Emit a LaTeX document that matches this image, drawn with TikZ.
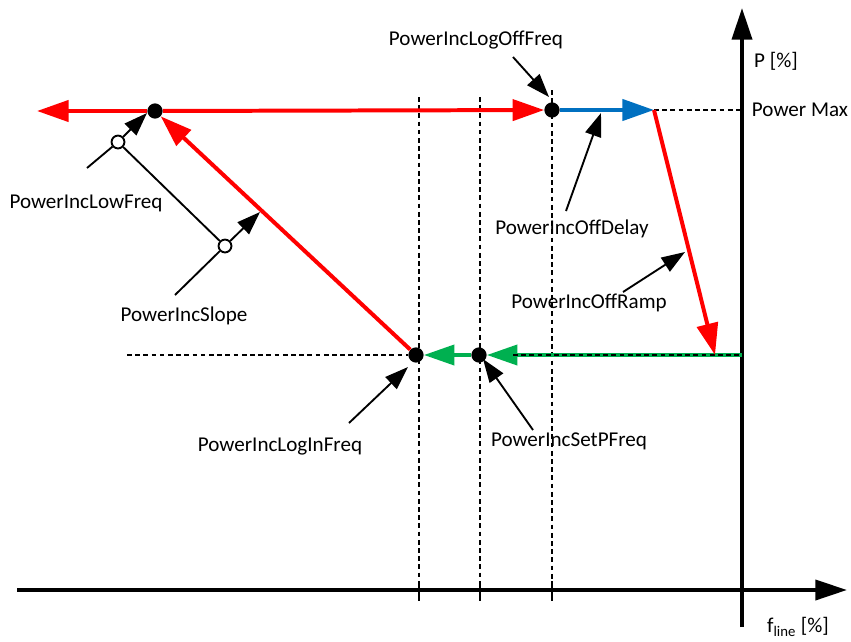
\documentclass[tikz,border=0pt]{standalone}
\usepackage{fontspec}
\setmainfont{Carlito}
\usepackage{tikz}
\usetikzlibrary{arrows.meta}

\definecolor{incred}{RGB}{255,0,0}
\definecolor{incblue}{RGB}{0,112,192}
\definecolor{incgreen}{RGB}{0,176,80}

\begin{document}
\begin{tikzpicture}[%
	x=0.03cm, y=-0.03cm,
	every node/.style={font=\fontsize{18}{20}\selectfont, inner sep=1pt},
	dot/.style={circle, fill=black, inner sep=0pt, minimum size=13pt},
	ring/.style={circle, draw=black, line width=1.6pt, fill=white, inner sep=0pt, minimum size=11pt},
	axis/.style={line width=3.4pt, -{Triangle[length=27pt,width=17pt]}},
	tick/.style={line width=1.7pt},
	guide/.style={line width=0.9pt, dash pattern=on 4pt off 3pt},
	redline/.style={incred, line width=3.4pt, -{Triangle[length=27pt,width=18pt]}},
	blueline/.style={incblue, line width=3.4pt, -{Triangle[length=27pt,width=18pt]}},
	greenline/.style={incgreen, line width=3.4pt, -{Triangle[length=26pt,width=17pt]}},
	pointer/.style={line width=1.6pt, -{Triangle[length=20pt,width=14pt]}}]
	\useasboundingbox (0,0) rectangle (851,641);
	% axes
	\coordinate (xstart) at (17,590);
	\coordinate (xend) at (847,590);
	\coordinate (ystart) at (742,627);
	\coordinate (yend) at (742,8);
	\node (plabel) at (776,61) {P [\%]};
	\node (pmaxlabel) at (800,110) {Power Max};
	\node (flabel) at (798,627) {f\textsubscript{line} [\%]};
	% guide lines
	\foreach \x/\top in {419/97, 480/97, 552/90}
		\draw[guide] (\x,\top) -- (\x,590);
	\draw[guide] (654,110) -- (742,110);
	\draw[axis] (xstart) -- (xend);
	\draw[axis] (ystart) -- (yend);
	\foreach \x in {419, 480, 552}
		\draw[tick] (\x,581) -- (\x,601);
	% points
	\node[dot] (lowf) at (155,111) {};
	\node[dot] (logoff) at (552,110) {};
	\node[dot] (setp) at (479,355) {};
	\node[dot] (login) at (416,355) {};
	\coordinate (leftend) at (37,111);
	\coordinate (pmax) at (654,110);
	\coordinate (rampend) at (715,355);
	\coordinate (pzero) at (742,355);
	\coordinate (greenhead) at (513,355);
	% curve
	\draw[guide] (127,355) -- (login);
	\draw[incgreen, line width=3.4pt] (pzero) -- (rampend);
	\draw[greenline] (rampend) -- (setp);
	\draw[greenline] (setp) -- (login);
	\draw[guide] (greenhead) -- (pzero);
	\draw[redline] (login) -- (lowf);
	\draw[redline] (lowf) -- (leftend);
	\draw[redline] (lowf) -- (logoff);
	\draw[blueline] (logoff) -- (pmax);
	\draw[redline] (pmax) -- (rampend);
	% labels
	\node (lbllogoff) at (476,40) {PowerIncLogOffFreq};
	\node (lbldelay) at (572,229) {PowerIncOffDelay};
	\node (lblramp) at (589,303) {PowerIncOffRamp};
	\node (lblsetp) at (569,441) {PowerIncSetPFreq};
	\node (lbllogin) at (280,447) {PowerIncLogInFreq};
	\node (lbllowf) at (86,203) {PowerIncLowFreq};
	\node (lblslope) at (184,316) {PowerIncSlope};
	\coordinate (a1) at (513,57);
	\coordinate (b1) at (549,97);
	\coordinate (a2) at (566,211);
	\coordinate (b2) at (601,113);
	\coordinate (a3) at (623,292);
	\coordinate (b3) at (685,252);
	\coordinate (a4) at (533,430);
	\coordinate (b4) at (483,359);
	\coordinate (a5) at (349,423);
	\coordinate (b5) at (408,367);
	\coordinate (a6) at (87,168);
	\coordinate (b6) at (147,113);
	\coordinate (a7) at (175,295);
	\coordinate (b7) at (260,212);
	\node[ring] (lowring) at (118,142) {};
	\node[ring] (slopering) at (225,246) {};
	\draw[pointer] (a1) -- (b1);
	\draw[pointer] (a2) -- (b2);
	\draw[pointer] (a3) -- (b3);
	\draw[pointer] (a4) -- (b4);
	\draw[pointer] (a5) -- (b5);
	\draw[line width=1.6pt] (a6) -- (lowring);
	\draw[pointer] (lowring) -- (b6);
	\draw[line width=1.6pt] (a7) -- (slopering);
	\draw[pointer] (slopering) -- (b7);
	\draw[line width=1.6pt] (lowring) -- (slopering);
\end{tikzpicture}
\end{document}
